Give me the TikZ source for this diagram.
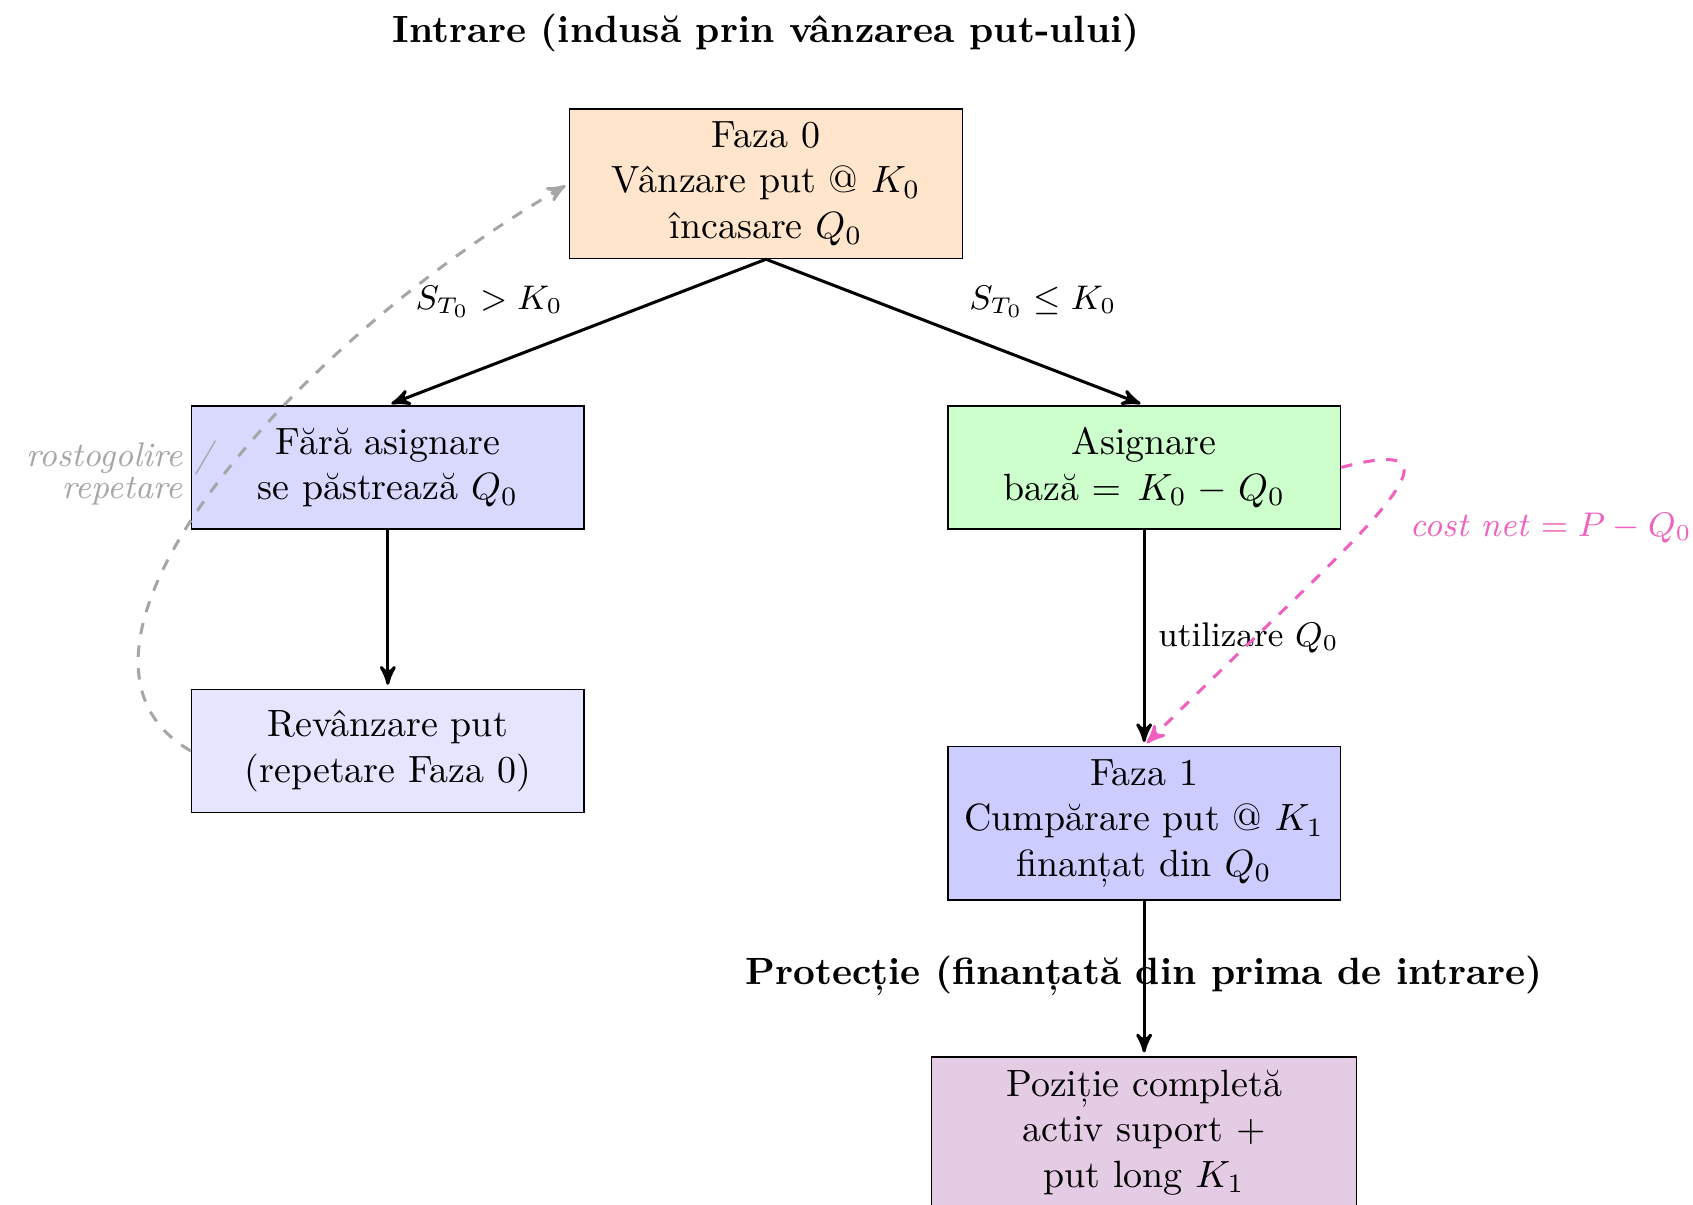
\documentclass[tikz,border=0pt]{standalone}
\usepackage{fontspec}
\usetikzlibrary{arrows, positioning}
\definecolor{costpink}{RGB}{240,96,190}

\begin{document}
\begin{tikzpicture}[->,>=stealth',shorten >=1pt,auto,node distance=1.35cm,
  thick,phase node/.style={rectangle,draw,thin,text width=3.4cm,align=center,minimum height=1.14cm},
  title node/.style={font=\bfseries}]
  \useasboundingbox (-7.09,-9.45) rectangle (8.58,1.70);
  \node[phase node,fill=orange!20] (0) at (0,0) {Faza 0\\ Vânzare put @ $K_0$\\ încasare $Q_0$};
  \node[title node] (t0) [above=0.39cm of 0] {Intrare (indusă prin vânzarea put-ului)};
  \node[phase node,fill=blue!15] (1) [below=of 0,xshift=-3.5cm] {Fără asignare\\ se păstrează $Q_0$};
  \node[phase node,fill=green!20] (2) [below=of 0,xshift=3.5cm] {Asignare\\ bază $= K_0 - Q_0$};
  \node[phase node,fill=blue!10] (3) [below=1.47cm of 1] {Revânzare put\\ (repetare Faza 0)};
  \node[phase node,fill=blue!20] (4) [below=2cm of 2] {Faza 1\\ Cumpărare put @ $K_1$\\ finanțat din $Q_0$};
  \node[title node] (t1) [below=0.38cm of 4] {Protecție (finanțată din prima de intrare)};
  \node[phase node,fill=violet!20,text width=3.7cm] (5) [below=1.44cm of 4] {Poziție completă\\ activ suport +\\ put long $K_1$};
  \path[every node/.style={font=\small}]
    (0.south) edge node[swap] {$S_{T_0} > K_0$} (1.north)
              edge node {$S_{T_0} \leq K_0$} (2.north)
    (1) edge (3)
    (2) edge node {utilizare $Q_0$} (4)
    (4) edge (5);
  \path[dashed,every node/.style={font=\small\itshape}]
    (3.west) edge[gray!70,out=150,in=210,out distance=1.8cm,in distance=3cm]
      node[pos=0.5,anchor=east,align=right,xshift=-0.14cm,yshift=0.17cm] {rostogolire\rlap{ /}\\[-2.5pt] repetare} (0.west)
    (2.east) edge[costpink,out=15,in=45,out distance=1.5cm,in distance=2.5cm]
      node[pos=0.5,anchor=west,xshift=0.21cm,yshift=-0.08cm] {cost net $= P - Q_0$} (4.north);
\end{tikzpicture}
\end{document}
